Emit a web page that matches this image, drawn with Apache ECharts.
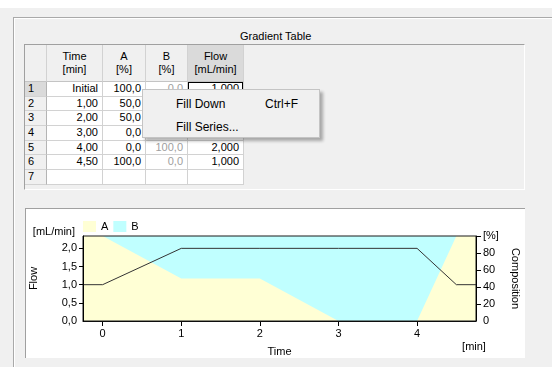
<!DOCTYPE html>
<html>
<head>
<meta charset="utf-8">
<title>Gradient Table</title>
<script src="https://cdn.jsdelivr.net/npm/echarts@6/dist/echarts.min.js"></script>
<style>
  html, body {
    margin: 0;
    padding: 0;
  }
  body {
    width: 552px;
    height: 367px;
    position: relative;
    overflow: hidden;
    background: #f0f0f0;
    font-family: 'Liberation Sans', Arial, sans-serif;
    font-size: 11px;
    color: #000;
  }
  .top-strip {
    position: absolute;
    left: 0;
    top: 0;
    width: 552px;
    height: 8px;
    background: #fff;
  }
  .group-box {
    position: absolute;
    left: 13px;
    top: 17px;
    width: 560px;
    height: 400px;
    border-top: 1px solid #a9a9a9;
    border-left: 1px solid #a9a9a9;
    box-shadow: inset 1px 1px 0 #fff;
  }
  .group-title {
    position: absolute;
    left: 240px;
    top: 30px;
    line-height: 12px;
  }
  .table-panel {
    position: absolute;
    left: 24px;
    top: 44px;
    width: 501px;
    height: 146px;
    box-sizing: border-box;
    border-top: 1px solid #a0a0a0;
    border-left: 1px solid #a0a0a0;
    border-right: 1px solid #fff;
    border-bottom: 1px solid #fff;
  }
  .grid-table {
    position: absolute;
    left: 25px;
    top: 45px;
    display: grid;
    grid-template-columns: 22px 56px 43px 42px 56px;
    grid-template-rows: 37px repeat(7, 14.7px);
  }
  .grid-table div {
    box-sizing: border-box;
    border-right: 1px solid #d2d2d2;
    border-bottom: 1px solid #d2d2d2;
    background: #fff;
    white-space: nowrap;
    overflow: hidden;
    line-height: 13.7px;
  }
  .grid-table .hd {
    background: #f0f0f0;
    text-align: center;
    line-height: 12.6px;
    display: flex;
    flex-direction: column;
    justify-content: center;
    border-bottom-color: #c4c4c4;
  }
  .grid-table .hd.sel {
    background: #dadada;
  }
  .grid-table .rh {
    background: #f0f0f0;
    padding-left: 3px;
    border-right-color: #b4b4b4;
  }
  .grid-table .rh.sel {
    background: #dadada;
  }
  .grid-table .num {
    text-align: right;
    padding-right: 4px;
  }
  .grid-table .off {
    color: #a0a0a0;
  }
  .grid-table .focus {
    box-shadow: inset 0 0 0 1px #000;
  }
  .ctx-menu {
    position: absolute;
    left: 142px;
    top: 89px;
    width: 178px;
    height: 49px;
    box-sizing: border-box;
    background: #f0f0f0;
    border: 1px solid #c4c4c4;
    box-shadow: 3px 3px 3px rgba(0, 0, 0, 0.3);
    font-size: 12px;
    z-index: 5;
  }
  .ctx-menu span {
    position: absolute;
    line-height: 14px;
  }
  .chart-panel {
    position: absolute;
    left: 25px;
    top: 208px;
    width: 500px;
    height: 150px;
    box-sizing: border-box;
    background: #fff;
    border-top: 1px solid #a0a0a0;
    border-left: 1px solid #a0a0a0;
  }
  .gradient-chart {
    position: absolute;
    left: 0;
    top: 200px;
    width: 552px;
    height: 167px;
    z-index: 2;
  }
</style>
</head>
<body>
  <div class="top-strip"></div>
  <div class="group-box"></div>
  <div class="group-title">Gradient Table</div>
  <div class="table-panel"></div>
  <div id="gradientTable" class="grid-table"></div>
  <div class="ctx-menu">
    <span style="left:33px;top:7px">Fill Down</span>
    <span style="left:122px;top:7px">Ctrl+F</span>
    <span style="left:33px;top:30px">Fill Series...</span>
  </div>
  <div class="chart-panel"></div>
  <div id="gradientChart" class="gradient-chart"></div>

<script>
// gradient steps (time in min, "Initial" = 0)
const timeVals = [0, 1, 2, 3, 4, 4.5]
const timeLabels = ['Initial', '1,00', '2,00', '3,00', '4,00', '4,50']
const compA = [100, 50, 50, 0, 0, 100]
const compB = [0, 50, 50, 100, 100, 0]
const flowVals = [1, 2, 2, 2, 2, 1]

const headerLines = [['Time', '[min]'], ['A', '[%]'], ['B', '[%]'], ['Flow', '[mL/min]']]
const emptyRows = 1

// axes
const timeMin = -0.25
const timeMax = 4.75
const timeTicks = [0, 1, 2, 3, 4]
const flowMax = 2.34
const flowTicks = [0, 0.5, 1, 1.5, 2]
const pctTicks = [0, 20, 40, 60, 80, 100]

const comma = (v, d) => v.toFixed(d).replace('.', ',')

function buildTable() {
  const el = document.getElementById('gradientTable')
  let html = '<div class="hd"></div>'
  headerLines.forEach((h, i) => {
    html += '<div class="hd' + (i === 3 ? ' sel' : '') + '"><span>' + h[0] + '</span><span>' + h[1] + '</span></div>'
  })
  timeVals.forEach((t, i) => {
    html += '<div class="rh' + (i === 0 ? ' sel' : '') + '">' + (i + 1) + '</div>'
    html += '<div class="num">' + timeLabels[i] + '</div>'
    html += '<div class="num">' + comma(compA[i], 1) + '</div>'
    html += '<div class="num off">' + comma(compB[i], 1) + '</div>'
    html += '<div class="num' + (i === 0 ? ' focus' : '') + '">' + comma(flowVals[i], 3) + '</div>'
  })
  for (let r = 0; r < emptyRows; r++) {
    html += '<div class="rh">' + (timeVals.length + r + 1) + '</div><div></div><div></div><div></div><div></div>'
  }
  el.innerHTML = html
}

// hold first/last value out to the axis edges
function toEdges(vals) {
  const pts = timeVals.map((t, i) => [t, vals[i]])
  return [[timeMin, vals[0]]].concat(pts, [[timeMax, vals[vals.length - 1]]])
}

function initChart() {
  const chartDom = echarts.init(document.getElementById('gradientChart'))
  const font = { fontFamily: 'Liberation Sans', fontSize: 11, color: '#000' }
  // B sits on top of A
  const compTop = compA.map((a, i) => a + compB[i])

  const option = {
    animation: false,
    textStyle: font,
    grid: {
      left: 83,
      right: 76,
      top: 36,
      bottom: 46,
      z: 5,
      show: true,
      backgroundColor: 'transparent',
      borderColor: '#1a1a1a',
      borderWidth: 1,
      containLabel: false,
      outerBoundsMode: 'none'
    },
    legend: {
      data: ['A', 'B'],
      left: 83,
      top: 21,
      padding: 0,
      icon: 'rect',
      itemWidth: 13,
      itemHeight: 11,
      itemGap: 5,
      itemStyle: { borderWidth: 0 },
      textStyle: font
    },
    xAxis: [
      {
        // labels + name
        type: 'value',
        min: timeMin,
        max: timeMax,
        name: 'Time',
        nameLocation: 'middle',
        nameGap: 25,
        nameTextStyle: font,
        axisLine: { show: true, onZero: false, lineStyle: { color: '#000', width: 1 } },
        axisTick: { show: true, length: 5, customValues: timeTicks, lineStyle: { color: '#000', width: 1 } },
        axisLabel: { customValues: timeTicks, margin: 7, fontFamily: 'Liberation Sans', fontSize: 11, color: '#000' },
        splitLine: { show: false }
      },
      {
        // tick marks only
        type: 'value',
        min: timeMin,
        max: timeMax,
        position: 'bottom',
        axisLine: { show: false, onZero: false },
        axisTick: { show: true, length: 5, customValues: timeTicks, lineStyle: { color: '#000', width: 1 } },
        axisLabel: { show: false },
        splitLine: { show: false }
      }
    ],
    yAxis: [
      {
        type: 'value',
        z: 10,
        min: 0,
        max: flowMax,
        position: 'left',
        name: 'Flow',
        nameLocation: 'middle',
        nameGap: 44,
        nameTextStyle: font,
        axisLine: { show: true, onZero: false, lineStyle: { color: '#000', width: 1 } },
        axisTick: { show: true, length: 4, customValues: flowTicks.slice(1), lineStyle: { color: '#000', width: 1 } },
        axisLabel: Object.assign({
          customValues: flowTicks,
          margin: 6,
          formatter: v => comma(v, 1)
        }, font),
        splitLine: { show: false }
      },
      {
        type: 'value',
        z: 10,
        min: 0,
        max: 100,
        position: 'right',
        name: 'Composition',
        nameLocation: 'middle',
        nameRotate: -90,
        nameGap: 33,
        nameTextStyle: font,
        axisLine: { show: true, onZero: false, lineStyle: { color: '#000', width: 1 } },
        axisTick: { show: true, length: 5, customValues: pctTicks.slice(1), lineStyle: { color: '#000', width: 1 } },
        axisLabel: Object.assign({
          customValues: pctTicks,
          margin: 7,
          formatter: v => (v === 100 ? '[%]' : String(v))
        }, font),
        splitLine: { show: false }
      }
    ],
    graphic: [
      { type: 'text', x: 75, y: 32, style: Object.assign({ text: '[mL/min]', align: 'right', verticalAlign: 'middle', fill: '#000' }, font) },
      { type: 'text', x: 474, y: 147, style: Object.assign({ text: '[min]', align: 'center', verticalAlign: 'middle', fill: '#000' }, font) }
    ],
    series: [
      {
        name: 'B',
        type: 'line',
        yAxisIndex: 1,
        data: toEdges(compTop),
        symbol: 'none',
        color: '#c0ffff',
        lineStyle: { width: 0 },
        areaStyle: { color: '#c0ffff', opacity: 1 },
        z: 1
      },
      {
        name: 'A',
        type: 'line',
        yAxisIndex: 1,
        data: toEdges(compA),
        symbol: 'none',
        color: '#ffffd5',
        lineStyle: { width: 0 },
        areaStyle: { color: '#ffffd5', opacity: 1 },
        z: 1
      },
      {
        name: 'Flow',
        type: 'line',
        yAxisIndex: 0,
        data: toEdges(flowVals),
        symbol: 'none',
        color: '#333',
        lineStyle: { width: 1, color: '#333' },
        z: 3
      }
    ]
  }

  chartDom.setOption(option)
}

buildTable()
initChart()
</script>
</body>
</html>
